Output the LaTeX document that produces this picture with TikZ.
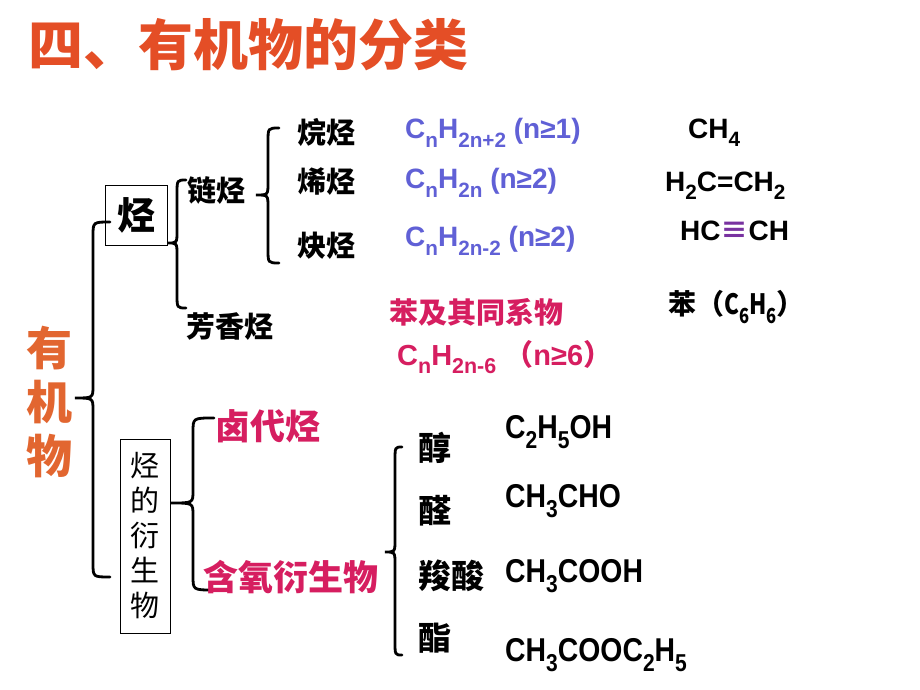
\documentclass[tikz,border=0pt]{standalone}
\usepackage{fontspec}
\usepackage{graphicx}
\setmainfont{Liberation Sans}
\newfontfamily\cjk{Noto Sans CJK SC}
\definecolor{titlecol}{RGB}{228,78,38}
\definecolor{orgcol}{RGB}{226,102,48}
\definecolor{bluecol}{RGB}{96,96,214}
\definecolor{magcol}{RGB}{214,30,96}
\definecolor{tripcol}{RGB}{120,50,160}
\newcommand\sbs[1]{\raisebox{-0.3em}{\scalebox{0.74}{#1}}}
\newcommand\fs[1]{\fontsize{#1}{#1}\selectfont}
\newcommand\cbr[6]{% vx, top, bot, tipx, tipy, endx
 \draw[bracelinestyle] (#6,#2) .. controls (#1,#2) .. (#1,#2+14) -- (#1,#5-12) .. controls (#1,#5) .. (#4,#5)
   .. controls (#1,#5) .. (#1,#5+12) -- (#1,#3-14) .. controls (#1,#3) .. (#6,#3);}
\tikzset{
 bracelinestyle/.style={line width=2.8pt, black, line cap=round},
 lbl/.style={anchor=west, inner sep=0pt},
 cn/.style={font=\cjk\bfseries\fs{29}},
 fblue/.style={lbl, text=bluecol, font=\bfseries\fs{28}},
 fblack/.style={lbl, text=black, font=\bfseries\fs{28}},
 fnar/.style={lbl, text=black, font=\bfseries\fs{33}},
}
\begin{document}
\begin{tikzpicture}[x=1pt,y=-1pt]
\useasboundingbox[fill=white] (0,0) rectangle (920,690);
% title
\node[lbl, text=titlecol, font=\cjk\bfseries\fs{55}] (title) at (28,45) {四、有机物的分类};
% 有机物
\node[text=orgcol, font=\cjk\bfseries\fs{46}, align=center, inner sep=0pt] (org) at (50,402) {有\\[8pt]机\\[8pt]物};
% big brace
\cbr{93}{222}{577}{75}{398}{110}
% 烃 box
\node[draw=black, line width=0.8pt, minimum width=62pt, minimum height=60pt, inner sep=0pt, font=\cjk\bfseries\fs{38}] (ting) at (136,215) {烃};
% brace for 烃
\cbr{177}{180}{308}{168}{243}{186}
\node[lbl, cn] (lian) at (187,190) {链烃};
\node[lbl, cn] (fang) at (186,327) {芳香烃};
% brace for 链烃
\cbr{268}{128}{263}{256}{195}{279}
\node[lbl, cn] (wan) at (297,132) {烷烃};
\node[lbl, cn] (xi) at (297,182) {烯烃};
\node[lbl, cn] (que) at (297,246) {炔烃};
% blue formulas
\node[fblue] (f1) at (405,133) {C\sbs{n}H\sbs{2n+2} (n≥1)};
\node[fblue] (f2) at (405,183) {C\sbs{n}H\sbs{2n} (n≥2)};
\node[fblue] (f3) at (405,241) {C\sbs{n}H\sbs{2n-2} (n≥2)};
% black formulas
\node[fblack] (e1) at (688,133) {CH\sbs{4}};
\node[fblack] (e2) at (665,186) {H\sbs{2}C=CH\sbs{2}};
\node[fblack] (e3) at (680,231) {HC{\cjk\textcolor{tripcol}{≡}}CH};
\node[lbl, font=\cjk\bfseries\fs{28}] (e4) at (668,307) {苯（{\bfseries\scalebox{0.8}[1]{C\sbs{6}H\sbs{6}}}）};
% magenta
\node[lbl, text=magcol, font=\cjk\bfseries\fs{29}] (ben) at (389,312) {苯及其同系物};
\node[lbl, text=magcol, font=\bfseries\fs{29}] (f4) at (397,357) {C\sbs{n}H\sbs{2n-6} {\cjk （}n≥6{\cjk ）}};
% derivative box
\node[draw=black, line width=0.8pt, minimum width=50pt, minimum height=194pt, inner sep=0pt, align=center, font=\cjk\fs{29}] (der) at (145,536) {烃\\[6pt]的\\[6pt]衍\\[6pt]生\\[6pt]物};
% brace for derivatives
\cbr{193}{418}{590}{171}{503}{214}
\node[lbl, text=magcol, font=\cjk\bfseries\fs{35}] (lu) at (215,426) {卤代烃};
\node[lbl, text=magcol, font=\cjk\bfseries\fs{35}] (han) at (203,577) {含氧衍生物};
% brace for oxygen derivatives
\cbr{395}{447}{655}{385}{552}{402}
\node[lbl, font=\cjk\bfseries\fs{33}] (chun) at (418,448) {醇};
\node[lbl, font=\cjk\bfseries\fs{33}] (quan) at (418,511) {醛};
\node[lbl, font=\cjk\bfseries\fs{33}] (suo) at (418,576) {羧酸};
\node[lbl, font=\cjk\bfseries\fs{33}] (zhi) at (418,638) {酯};
\node[fnar] (g1) at (505,432) {\scalebox{0.86}[1]{C\sbs{2}H\sbs{5}OH}};
\node[fnar] (g2) at (505,501) {\scalebox{0.86}[1]{CH\sbs{3}CHO}};
\node[fnar] (g3) at (505,576) {\scalebox{0.86}[1]{CH\sbs{3}COOH}};
\node[fnar] (g4) at (505,655) {\scalebox{0.86}[1]{CH\sbs{3}COOC\sbs{2}H\sbs{5}}};
\end{tikzpicture}
\end{document}
